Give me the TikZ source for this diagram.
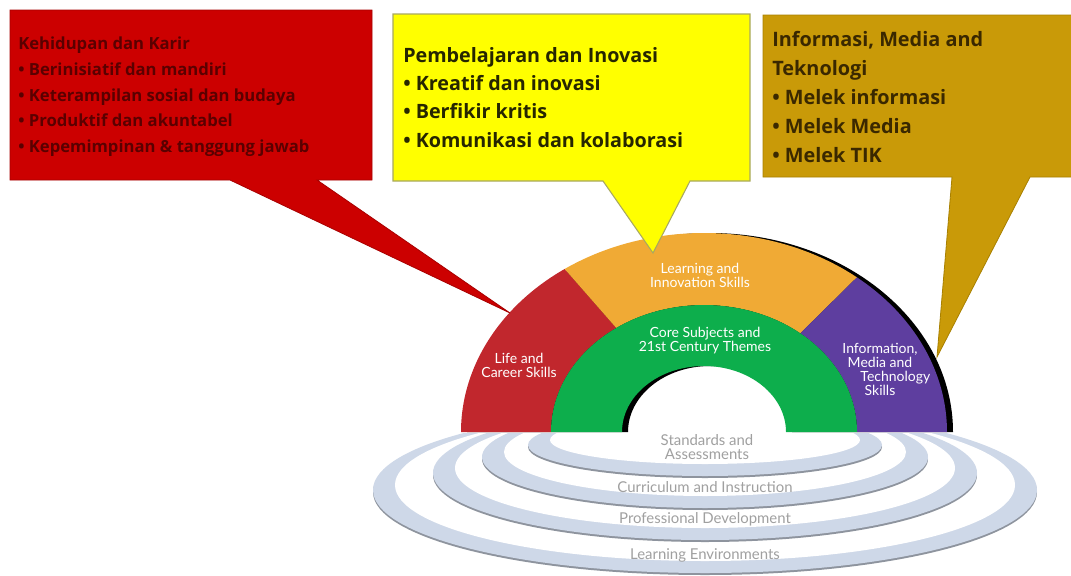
\documentclass[tikz,border=0pt]{standalone}
\usepackage{fontspec}
\setmainfont{Carlito}
\newfontfamily\labelfont{Lato}
\newfontfamily\calloutfont{Open Sans}
\definecolor{calloutred}{HTML}{CC0000}
\definecolor{calloutredline}{HTML}{A80000}
\definecolor{redtext}{HTML}{5A0000}
\definecolor{calloutyellow}{HTML}{FFFF00}
\definecolor{calloutyellowline}{HTML}{A8A860}
\definecolor{yellowtext}{HTML}{262600}
\definecolor{calloutgold}{HTML}{C99A08}
\definecolor{calloutgoldline}{HTML}{A88000}
\definecolor{goldtext}{HTML}{3A2800}
\definecolor{lifered}{HTML}{C1272D}
\definecolor{learnorange}{HTML}{F0AA35}
\definecolor{techpurple}{HTML}{5E3E9F}
\definecolor{coregreen}{HTML}{0DAE4C}
\definecolor{ringblue}{HTML}{CED8E8}
\definecolor{ringedge}{HTML}{8E949E}
\definecolor{ringtext}{HTML}{A0A0A0}
\begin{document}
\begin{tikzpicture}[x=0.75pt,y=-0.75pt,
  callouttext/.style={anchor=north west, inner sep=0pt, align=left},
  arclabel/.style={text=white, align=center, inner sep=0pt, font=\labelfont\fontsize{10.5}{10.5}\selectfont},
  ringlabel/.style={text=ringtext, align=center, inner sep=0pt, font=\labelfont\fontsize{11.2}{10}\selectfont}]
\useasboundingbox (0,0) rectangle (1071,575);
\fill[white] (0,0) rectangle (1071,575);

% ---- rings below the arch ----
\begin{scope}
  \clip (0,433) rectangle (1071,575);
  \foreach \cy/\rx/\ry in {490/332/83, 473/272/67, 457/223/51, 445/177/31} {
    \fill[ringedge] (705,{\cy+2}) ellipse[x radius=\rx, y radius=\ry];
    \fill[ringblue] (705,\cy) ellipse[x radius=\rx, y radius=\ry];
    \fill[white] (705,{\cy-5}) ellipse[x radius={\rx-22}, y radius={\ry-7}];
  }
\end{scope}
\node[ringlabel] (standards) at (707,447) {Standards and\\Assessments};
\node[ringlabel] (curriculum) at (705,487) {Curriculum and Instruction};
\node[ringlabel] (profdev) at (705,519) {Professional Development};
\node[ringlabel] (learnenv) at (705,555) {Learning Environments};

% ---- arch of skills ----
\begin{scope}[shift={(704,432)}, yscale=-1]
  \fill[black, shift={(6,0)}] (0:243 and 199) arc[start angle=0, end angle=180, x radius=243, y radius=199]
     -- (180:82 and 66) arc[start angle=180, end angle=0, x radius=82, y radius=66] -- cycle;
  \fill[lifered] (180:243 and 199) arc[start angle=180, end angle=125, x radius=243, y radius=199]
     -- (125:153 and 127) arc[start angle=125, end angle=180, x radius=153, y radius=127] -- cycle;
  \fill[learnorange] (125:243 and 199) arc[start angle=125, end angle=51, x radius=243, y radius=199]
     -- (51:153 and 127) arc[start angle=51, end angle=125, x radius=153, y radius=127] -- cycle;
  \fill[techpurple] (51:243 and 199) arc[start angle=51, end angle=0, x radius=243, y radius=199]
     -- (0:153 and 127) arc[start angle=0, end angle=51, x radius=153, y radius=127] -- cycle;
  \fill[coregreen] (0:153 and 127) arc[start angle=0, end angle=180, x radius=153, y radius=127]
     -- (180:82 and 66) arc[start angle=180, end angle=0, x radius=82, y radius=66] -- cycle;
\end{scope}
\node[arclabel] (life) at (519,365) {Life and\\Career Skills};
\node[arclabel] (learning) at (700,275) {Learning and\\Innovation Skills};
\node[arclabel] (core) at (705,341) {Core Subjects and\\21st Century Themes};
\node[arclabel] (infotech) at (880,369) {Information,\\Media and\\\hspace*{2.2em}Technology\\Skills};

% ---- callouts ----
\filldraw[fill=calloutred, draw=calloutredline, line width=0.6pt]
  (10,10) -- (372,10) -- (372,180) -- (317,180) -- (510,313) -- (230,180) -- (10,180) -- cycle;
\filldraw[fill=calloutyellow, draw=calloutyellowline, line width=0.8pt]
  (393,14) -- (750,14) -- (750,181) -- (690,181) -- (653,253) -- (603,181) -- (393,181) -- cycle;
\filldraw[fill=calloutgold, draw=calloutgoldline, line width=0.6pt]
  (763,15) -- (1080,15) -- (1080,177) -- (1030,177) -- (937,357) -- (952,177) -- (763,177) -- cycle;

\node[callouttext, text=redtext, font=\calloutfont\bfseries\fontsize{12.5}{19.2}\selectfont] (lifetext) at (18,37)
  {Kehidupan dan Karir\\
   • Berinisiatif dan mandiri\\
   • Keterampilan sosial dan budaya\\
   • Produktif dan akuntabel\\
   • Kepemimpinan \& tanggung jawab};
\node[callouttext, text=yellowtext, font=\calloutfont\bfseries\fontsize{14.8}{21.2}\selectfont] (learntext) at (403,47)
  {Pembelajaran dan Inovasi\\
   • Kreatif dan inovasi\\
   • Berfikir kritis\\
   • Komunikasi dan kolaborasi};
\node[callouttext, text=goldtext, font=\calloutfont\bfseries\fontsize{14.9}{21.7}\selectfont] (techtext) at (772,31)
  {Informasi, Media and\\
   Teknologi\\
   • Melek informasi\\
   • Melek Media\\
   • Melek TIK};
\end{tikzpicture}
\end{document}
